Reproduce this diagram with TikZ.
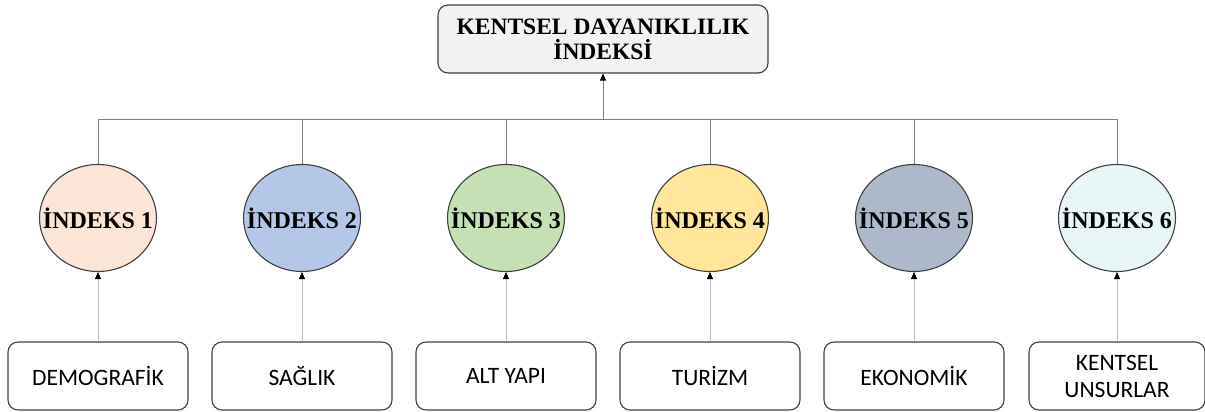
\documentclass[tikz,border=0pt]{standalone}
\usepackage{fontspec}
\setmainfont{Liberation Serif}
\newfontfamily\boxfont{Carlito}
\usetikzlibrary{arrows.meta,shapes.geometric}
\definecolor{cA}{HTML}{FBE5D6}
\definecolor{cB}{HTML}{B4C7E7}
\definecolor{cC}{HTML}{C5E0B4}
\definecolor{cD}{HTML}{FFE699}
\definecolor{cE}{HTML}{ADB9CA}
\definecolor{cF}{HTML}{E8F6F8}
\definecolor{titlefill}{HTML}{F2F2F2}
\definecolor{edge}{HTML}{404040}
\definecolor{treeline}{HTML}{808080}
\definecolor{feedline}{HTML}{BFBFBF}
\tikzset{
  titlebox/.style={draw=edge, line width=1.1pt, fill=titlefill, rounded corners=10pt,
    minimum width=330pt, minimum height=68pt, inner sep=0pt, align=center,
    font=\fontsize{23.5}{25}\selectfont\bfseries},
  indexnode/.style={ellipse, draw=edge, line width=1.1pt, minimum width=117pt,
    minimum height=107pt, inner sep=0pt, font=\fontsize{24}{26}\selectfont\bfseries},
  sourcebox/.style={draw=edge, line width=1.1pt, fill=white, rounded corners=10pt,
    minimum width=180pt, minimum height=68pt, inner sep=0pt, align=center,
    font=\boxfont\fontsize{23.5}{27}\selectfont},
  treelink/.style={draw=treeline, line width=1pt},
  feedlink/.style={draw=feedline, line width=1pt, -{Triangle[length=7pt,width=6pt,color=black]}},
  uplink/.style={draw=treeline, line width=1pt, -{Triangle[length=7pt,width=6pt,color=black]}}
}
\begin{document}
\begin{tikzpicture}[x=1pt,y=-1pt]
\useasboundingbox (0,0) rectangle (1205,412);
\node[titlebox] (title) at (603,39) {KENTSEL DAYANIKLILIK\\İNDEKSİ};
\coordinate (hub) at (603,119);
\node[indexnode, fill=cA] (c1) at (98,218)   {\makebox[0pt]{İNDEKS 1}};
\node[indexnode, fill=cB] (c2) at (302,218)  {\makebox[0pt]{İNDEKS 2}};
\node[indexnode, fill=cC] (c3) at (506,218)  {\makebox[0pt]{İNDEKS 3}};
\node[indexnode, fill=cD] (c4) at (710,218)  {\makebox[0pt]{İNDEKS 4}};
\node[indexnode, fill=cE] (c5) at (914,218)  {\makebox[0pt]{İNDEKS 5}};
\node[indexnode, fill=cF] (c6) at (1117,218) {\makebox[0pt]{İNDEKS 6}};
\node[sourcebox] (b1) at (98,376)   {DEMOGRAFİK};
\node[sourcebox] (b2) at (302,376)  {SAĞLIK};
\node[sourcebox] (b3) at (506,376)  {ALT YAPI};
\node[sourcebox] (b4) at (710,376)  {TURİZM};
\node[sourcebox] (b5) at (914,376)  {EKONOMİK};
\node[sourcebox, minimum width=176pt] (b6) at (1117,376) {KENTSEL\\UNSURLAR};
\foreach \i in {1,...,6} {
  \draw[treelink] (c\i.north) |- (hub);
  \draw[feedlink] (b\i.north) -- (c\i.south);
}
\draw[uplink] (hub) -- (title.south);
\end{tikzpicture}
\end{document}
